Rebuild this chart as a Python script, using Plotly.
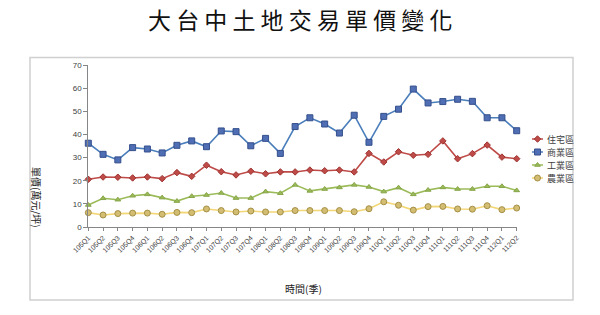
import plotly.graph_objects as go

quarters = ["105Q1","105Q2","105Q3","105Q4","106Q1","106Q2","106Q3","106Q4",
            "107Q1","107Q2","107Q3","107Q4","108Q1","108Q2","108Q3","108Q4",
            "109Q1","109Q2","109Q3","109Q4","110Q1","110Q2","110Q3","110Q4",
            "111Q1","111Q2","111Q3","111Q4","112Q1","112Q2"]

residential = [20.6, 21.6, 21.5, 21.2, 21.6, 20.9, 23.5, 21.9, 26.7, 23.9,
               22.5, 24.1, 23.0, 23.8, 23.8, 24.6, 24.3, 24.6, 23.8, 31.8,
               28.1, 32.5, 31.0, 31.4, 37.2, 29.5, 31.7, 35.4, 30.2, 29.5]
commercial = [36.2, 31.4, 29.0, 34.3, 33.7, 32.0, 35.3, 37.2, 34.7, 41.5,
              41.2, 35.1, 38.3, 31.8, 43.4, 47.2, 44.5, 40.6, 48.3, 36.6,
              47.8, 50.9, 59.6, 53.6, 54.2, 55.2, 54.3, 47.2, 47.2, 41.6]
industrial = [9.5, 12.4, 11.8, 13.5, 14.1, 12.7, 11.2, 13.3, 13.8, 14.7,
              12.5, 12.5, 15.3, 14.6, 18.2, 15.6, 16.4, 17.1, 18.2, 17.3,
              15.3, 17.0, 14.1, 16.0, 17.1, 16.4, 16.4, 17.6, 17.6, 15.8]
agricultural = [6.2, 5.2, 5.8, 6.0, 6.0, 5.5, 6.3, 6.2, 7.8, 7.1,
                6.5, 6.9, 6.5, 6.5, 7.1, 7.1, 7.1, 7.1, 6.6, 7.9,
                10.9, 9.4, 7.3, 8.8, 8.9, 7.8, 7.7, 9.2, 7.5, 8.2]

series_names = ["住宅區", "商業區", "工業區", "農業區"]
y_ticks = [0, 10, 20, 30, 40, 50, 60, 70]

CJK = "Noto Sans CJK TC"
W, H = 600, 315

def fx(px):
    return px / W

def fy(py):
    return 1 - py / H

# plot area in pixels
PX0, PX1, PY0, PY1 = 88.3, 516.7, 65, 227

styles = [
    dict(data=residential, line="#BE4B48", sym="diamond", size=5, fill="#BE4B48", edge="#9E3532"),
    dict(data=commercial, line="#4A7EBB", sym="square", size=6, fill="#4F6EB3", edge="#344F8C"),
    dict(data=industrial, line="#9BBB59", sym="triangle-up", size=5, fill="#9BBB59", edge="#86A548"),
    dict(data=agricultural, line="#F3D675", sym="circle", size=6, fill="#D2BD72", edge="#A58F45"),
]

fig = go.Figure()
for name, s in zip(series_names, styles):
    fig.add_trace(go.Scatter(
        x=quarters, y=s["data"], name=name, mode="lines+markers",
        line=dict(color=s["line"], width=1.6),
        marker=dict(symbol=s["sym"], size=s["size"], color=s["fill"],
                    line=dict(color=s["edge"], width=1)),
        cliponaxis=False, showlegend=False,
    ))

# custom legend (compact, like the reference)
LEG_TOP, ROW = 132.5, 13
annotations = []
for i, (name, s) in enumerate(zip(series_names, styles)):
    fig.add_trace(go.Scatter(x=[0, 1], y=[i, i], mode="lines", xaxis="x2", yaxis="y2",
                             line=dict(color=s["line"], width=1.6), showlegend=False,
                             hoverinfo="skip", cliponaxis=False))
    fig.add_trace(go.Scatter(x=[0.5], y=[i], mode="markers", xaxis="x2", yaxis="y2",
                             marker=dict(symbol=s["sym"], size=s["size"], color=s["fill"],
                                         line=dict(color=s["edge"], width=1)),
                             showlegend=False, hoverinfo="skip", cliponaxis=False))
    annotations.append(dict(text=name, xref="paper", yref="paper",
                            x=fx(545), y=fy(LEG_TOP + (i + 0.5) * ROW),
                            xanchor="left", yanchor="middle", showarrow=False,
                            font=dict(family=CJK, size=9, color="#404040")))

annotations += [
    dict(text="時間(季)", xref="paper", yref="paper", x=fx(303), y=fy(288),
         xanchor="center", yanchor="middle",
         showarrow=False, font=dict(family=CJK, size=10, color="#222222")),
    dict(text="單價(萬元/坪)", xref="paper", yref="paper", x=fx(37), y=fy(197),
         xanchor="center", yanchor="middle",
         showarrow=False, textangle=90, font=dict(family=CJK, size=10, color="#222222")),
    dict(text=" ".join(list("大台中土地交易單價變化")), xref="paper", yref="paper",
         x=fx(300), y=fy(19), xanchor="center", yanchor="middle", showarrow=False,
         font=dict(family=CJK, size=23, color="#111111")),
]

fig.update_layout(
    width=W, height=H,
    margin=dict(l=0, r=0, t=0, b=0, pad=0, autoexpand=False),
    paper_bgcolor="white", plot_bgcolor="white",
    font=dict(family=CJK, color="#404040"),
    showlegend=False,
    xaxis=dict(type="category", range=[0, len(quarters) - 1],
               domain=[fx(PX0), fx(PX1)], anchor="y", automargin=False,
               showline=True, linecolor="#868686", linewidth=1,
               ticks="outside", ticklen=3, tickcolor="#868686",
               tickangle=-45, tickfont=dict(family="Liberation Sans", size=7, color="#404040"),
               showgrid=False, zeroline=False),
    yaxis=dict(range=[0, 70], tickvals=y_ticks, domain=[fy(PY1), fy(PY0)], anchor="x",
               automargin=False,
               showline=True, linecolor="#868686", linewidth=1,
               ticks="outside", ticklen=4, tickcolor="#868686",
               tickfont=dict(family="Liberation Sans", size=8, color="#404040"),
               showgrid=False, zeroline=False),
    xaxis2=dict(domain=[fx(532), fx(543)], range=[0, 1], anchor="y2", visible=False,
                fixedrange=True, automargin=False),
    yaxis2=dict(domain=[fy(LEG_TOP + 4 * ROW), fy(LEG_TOP)], range=[3.5, -0.5], anchor="x2",
                visible=False, fixedrange=True, automargin=False),
    shapes=[dict(type="rect", xref="paper", yref="paper",
                 x0=fx(30), x1=fx(573), y0=fy(300), y1=fy(57.5),
                 line=dict(color="#D0D0D0", width=1.5), fillcolor="rgba(0,0,0,0)", layer="below")],
    annotations=annotations,
)

fig.write_html("out.html")
